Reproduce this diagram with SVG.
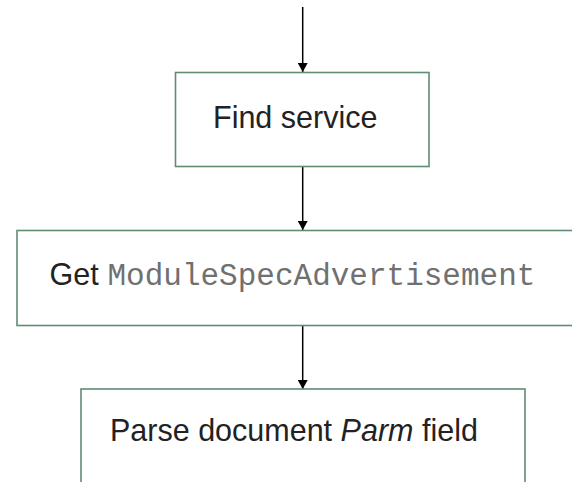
<svg xmlns="http://www.w3.org/2000/svg" width="572" height="482" viewBox="0 0 572 482">
  <style>
    .box { fill: #ffffff; stroke: #5f8c72; stroke-width: 1.6; }
    .lbl { font-family: "Liberation Sans", Arial, sans-serif; font-size: 30.5px; fill: #222222; }
    .code { font-family: "Liberation Mono", "Courier New", monospace; font-size: 31px; fill: #707070; }
    .edge { stroke: #000000; stroke-width: 1.5; fill: none; marker-end: url(#arrow); }
  </style>
  <defs>
    <!-- filled triangular head, tip at the end of the line -->
    <marker id="arrow" markerWidth="9" markerHeight="10" refX="9" refY="5" orient="auto" markerUnits="userSpaceOnUse" viewBox="0 0 9 10">
      <path d="M0,0 L9,5 L0,10 Z" fill="#000000"/>
    </marker>
  </defs>
  <rect width="572" height="482" fill="#ffffff"/>

  <g id="connectors">
    <line class="edge" x1="302.7" y1="7" x2="302.7" y2="72"/>
    <line class="edge" x1="302.7" y1="166.5" x2="302.7" y2="230"/>
    <line class="edge" x1="302.7" y1="326" x2="302.7" y2="389"/>
  </g>

  <g id="find-service">
    <rect class="box" x="175.5" y="72.5" width="253.5" height="94"/>
    <text class="lbl" x="213" y="128">Find service</text>
  </g>

  <g id="get-module-spec">
    <rect class="box" x="17" y="230.5" width="570" height="95"/>
    <text x="49.5" y="285"><tspan class="lbl">Get</tspan><tspan class="code" x="107.5">ModuleSpecAdvertisement</tspan></text>
  </g>

  <g id="parse-parm">
    <rect class="box" x="81" y="389" width="444" height="110"/>
    <text class="lbl" x="110" y="441">Parse document <tspan font-style="italic">Parm</tspan> field</text>
  </g>
</svg>
